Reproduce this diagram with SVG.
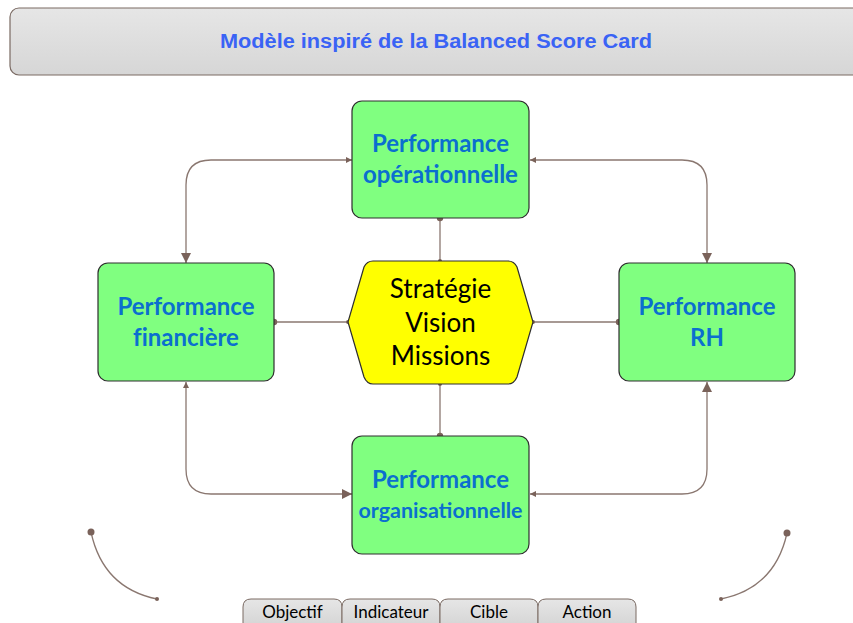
<svg xmlns="http://www.w3.org/2000/svg" width="853" height="623" viewBox="0 0 853 623">
  <defs>
    <linearGradient id="grayFill" x1="0" y1="0" x2="0" y2="1">
      <stop offset="0" stop-color="#e6e6e6"/>
      <stop offset="1" stop-color="#d6d6d6"/>
    </linearGradient>
    <marker id="bigHead" viewBox="0 0 10 10" refX="10" refY="5" markerWidth="10" markerHeight="10" markerUnits="userSpaceOnUse" orient="auto-start-reverse">
      <path d="M0,0 L10,5 L0,10 Z" fill="#7a625a"/>
    </marker>
    <marker id="smallHead" viewBox="0 0 10 10" refX="10" refY="5" markerWidth="7" markerHeight="6" markerUnits="userSpaceOnUse" orient="auto-start-reverse">
      <path d="M0,0 L10,5 L0,10 Z" fill="#7a625a"/>
    </marker>
  </defs>
  <style>
    .box { fill: #80ff80; stroke: #2e2e2e; stroke-width: 1.2; }
    .hex { fill: #ffff00; stroke: #2e2e2e; stroke-width: 1.2; }
    .label { font-family: Lato, "Open Sans", sans-serif; font-weight: bold; font-size: 24px; fill: #0b6fcf; text-anchor: middle; }
    .hexlabel { font-family: Lato, "Open Sans", sans-serif; font-size: 26px; fill: #000; text-anchor: middle; }
    .link { fill: none; stroke: #8a7770; stroke-width: 1.3; }
    .dot { fill: #7a625a; }
    .tab { fill: url(#grayFill); stroke: #7a6a63; stroke-width: 1; }
    .tabtext { font-family: Lato, "Open Sans", sans-serif; font-size: 17px; fill: #000; text-anchor: middle; }
  </style>

  <rect width="853" height="623" fill="#ffffff"/>

  <!-- title banner -->
  <g id="title">
    <rect x="10" y="8" width="860" height="67" rx="9" ry="9" fill="url(#grayFill)" stroke="#7a6a63" stroke-width="1.2"/>
    <text x="436" y="48" font-family="'Liberation Sans', Arial, sans-serif" font-size="20" font-weight="bold" fill="#3a63f5" text-anchor="middle" textLength="432" lengthAdjust="spacingAndGlyphs">Modèle inspiré de la Balanced Score Card</text>
  </g>

  <!-- connectors -->
  <g id="connectors">
    <line class="link" x1="440" y1="218" x2="440" y2="261"/>
    <line class="link" x1="274" y1="322" x2="348" y2="322"/>
    <line class="link" x1="533" y1="322" x2="619" y2="322"/>
    <line class="link" x1="440" y1="384" x2="440" y2="436"/>

    <!-- financière <-> opérationnelle -->
    <path class="link" d="M186,263 V185 Q186,160 211,160 H352" marker-start="url(#bigHead)" marker-end="url(#smallHead)"/>
    <!-- opérationnelle <-> RH -->
    <path class="link" d="M530,160 H682 Q707,160 707,185 V263" marker-start="url(#smallHead)" marker-end="url(#bigHead)"/>
    <!-- financière <-> organisationnelle -->
    <path class="link" d="M186,382 V469 Q186,494 211,494 H352" marker-start="url(#smallHead)" marker-end="url(#bigHead)"/>
    <!-- organisationnelle <-> RH -->
    <path class="link" d="M530,494 H682 Q707,494 707,469 V382" marker-start="url(#smallHead)" marker-end="url(#bigHead)"/>

    <path class="link" d="M91,532 Q103,588 157,599"/>
    <path class="link" d="M787,533 Q775,588 721,599"/>

    <circle class="dot" cx="440" cy="218" r="3.2"/>
    <circle class="dot" cx="440" cy="261" r="2"/>
    <circle class="dot" cx="274" cy="322" r="3.2"/>
    <circle class="dot" cx="348" cy="322" r="2"/>
    <circle class="dot" cx="533" cy="322" r="2"/>
    <circle class="dot" cx="619" cy="322" r="3.2"/>
    <circle class="dot" cx="440" cy="384" r="2"/>
    <circle class="dot" cx="440" cy="436" r="3.2"/>
    <circle class="dot" cx="91" cy="532" r="3.5"/>
    <circle class="dot" cx="157" cy="599" r="2"/>
    <circle class="dot" cx="787" cy="533" r="3.5"/>
    <circle class="dot" cx="721" cy="599" r="2"/>
  </g>

  <!-- nodes -->
  <g id="perf-operationnelle">
    <rect class="box" x="352" y="101" width="177" height="117" rx="10" ry="10"/>
    <text class="label" x="440.5" y="152">Performance</text>
    <text class="label" x="440.5" y="183">opérationnelle</text>
  </g>

  <g id="perf-financiere">
    <rect class="box" x="98" y="263" width="176" height="118" rx="10" ry="10"/>
    <text class="label" x="186" y="315">Performance</text>
    <text class="label" x="186" y="346" style="font-variant-ligatures: none">financière</text>
  </g>

  <g id="perf-rh">
    <rect class="box" x="619" y="263" width="176" height="118" rx="10" ry="10"/>
    <text class="label" x="707" y="315">Performance</text>
    <text class="label" x="707" y="346">RH</text>
  </g>

  <g id="perf-organisationnelle">
    <rect class="box" x="352" y="436" width="177" height="118" rx="10" ry="10"/>
    <text class="label" x="440.5" y="488">Performance</text>
    <text class="label" x="440.5" y="518" style="font-size: 20px" textLength="164" lengthAdjust="spacingAndGlyphs">organisationnelle</text>
  </g>

  <g id="strategie">
    <path class="hex" d="M373,261 H508 Q514,261 517,267 L533,322 L517,377 Q514,384 508,384 H373 Q367,384 364,377 L348,322 L364,267 Q367,261 373,261 Z"/>
    <text class="hexlabel" x="440.5" y="298">Stratégie</text>
    <text class="hexlabel" x="440.5" y="332">Vision</text>
    <text class="hexlabel" x="440.5" y="365">Missions</text>
  </g>

  <!-- bottom tabs -->
  <g id="tab-objectif">
    <path class="tab" d="M243,624 V607 Q243,599 251,599 H334 Q342,599 342,607 V624"/>
    <text class="tabtext" x="292.5" y="618">Objectif</text>
  </g>
  <g id="tab-indicateur">
    <path class="tab" d="M342,624 V607 Q342,599 350,599 H432 Q440,599 440,607 V624"/>
    <text class="tabtext" x="391" y="618">Indicateur</text>
  </g>
  <g id="tab-cible">
    <path class="tab" d="M440,624 V607 Q440,599 448,599 H530 Q538,599 538,607 V624"/>
    <text class="tabtext" x="489" y="618">Cible</text>
  </g>
  <g id="tab-action">
    <path class="tab" d="M538,624 V607 Q538,599 546,599 H628 Q636,599 636,607 V624"/>
    <text class="tabtext" x="587" y="618">Action</text>
  </g>
</svg>
